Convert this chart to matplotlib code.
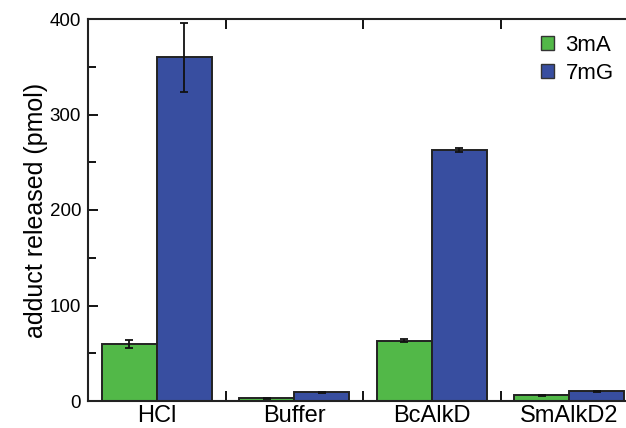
import matplotlib
matplotlib.use("Agg")
import matplotlib.pyplot as plt
import numpy as np
from matplotlib.patches import Patch
from matplotlib.ticker import MultipleLocator, FixedLocator

plt.rcParams['font.family'] = ['Liberation Sans', 'DejaVu Sans']

categories = ["HCl", "Buffer", "BcAlkD", "SmAlkD2"]
series_names = ["3mA", "7mG"]
vals_3mA = [60, 3, 63, 6]
err_3mA = [4, 0.5, 1.5, 0.8]
vals_7mG = [360, 9, 263, 10]
err_7mG = [36, 0.5, 2, 0.5]
colors = ["#52b848", "#384ea0"]

fig = plt.figure(figsize=(6.26, 4.28), dpi=100)
ax = fig.add_axes([88/626, 27/428, 550/626, 382/428])

x = np.arange(len(categories))
w = 0.4
ekw = dict(elinewidth=1.3, capthick=1.3, ecolor="#111111")
ax.bar(x - w/2, vals_3mA, w, yerr=err_3mA, color=colors[0], edgecolor="#222222",
       linewidth=1.4, capsize=3, error_kw=ekw, zorder=2)
ax.bar(x + w/2, vals_7mG, w, yerr=err_7mG, color=colors[1], edgecolor="#222222",
       linewidth=1.4, capsize=3, error_kw=ekw, zorder=2)

ax.set_xlim(-0.5, len(categories) - 0.5)
ax.set_ylim(0, 400)
ax.yaxis.set_major_locator(MultipleLocator(100))
ax.yaxis.set_minor_locator(MultipleLocator(50))
ax.set_xticks(x)
ax.set_xticklabels(categories, fontsize=17)
ax.tick_params(axis='x', which='major', length=0, pad=3)
ax.xaxis.set_minor_locator(FixedLocator(x[:-1] + 0.5))
ax.tick_params(axis='x', which='minor', direction='in', length=7, width=1.3,
               top=True, bottom=True)
ax.tick_params(axis='y', which='major', direction='in', length=7, width=1.3,
               labelsize=13.5, pad=5)
ax.tick_params(axis='y', which='minor', direction='in', length=6, width=1.3)
for s in ax.spines.values():
    s.set_linewidth(1.5)
    s.set_color("#222222")

ax.set_ylabel("adduct released (pmol)", fontsize=18, labelpad=1)

handles = [Patch(facecolor=c, edgecolor="#333333", linewidth=1.0, label=n)
           for c, n in zip(colors, series_names)]
leg = ax.legend(handles=handles, loc='upper left', bbox_to_anchor=(541/626, 1 - 35/428),
                bbox_transform=fig.transFigure, frameon=False, fontsize=16,
                handlelength=0.6, handleheight=0.6, handletextpad=0.5,
                labelspacing=0.3, borderaxespad=0, borderpad=0)

fig.savefig("out.png", dpi=100)
